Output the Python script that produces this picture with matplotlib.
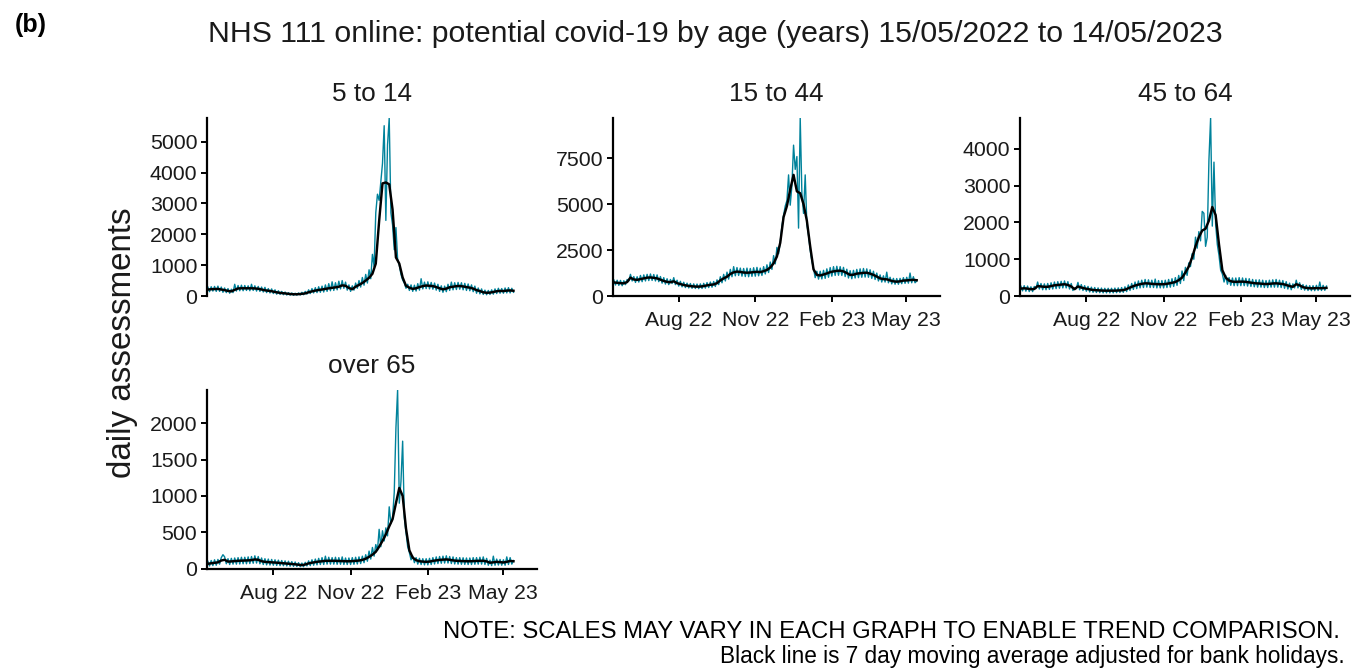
import numpy as np
import matplotlib
matplotlib.use("Agg")
import matplotlib.pyplot as plt
import matplotlib.dates as mdates

plt.rcParams['font.family'] = ['Liberation Sans', 'DejaVu Sans']

# ---------------- data ----------------
start_date = np.datetime64('2022-05-15')
teal_step = 2     # daily counts read every 2 days
black_step = 4    # 7-day moving average read every 4 days

panel_titles = ["5 to 14", "15 to 44", "45 to 64", "over 65"]

daily_5_14 = [290, 140, 300, 160, 310, 150, 320, 150, 290, 120,
              260, 110, 240, 90, 220, 110, 380, 160, 340, 170,
              350, 170, 340, 180, 330, 170, 380, 180, 330, 160,
              310, 150, 290, 130, 280, 110, 240, 100, 230, 80,
              200, 60, 170, 50, 150, 40, 130, 30, 110, 25,
              100, 20, 90, 25, 100, 30, 120, 40, 150, 60,
              200, 80, 240, 100, 270, 110, 300, 120, 320, 130,
              360, 150, 400, 170, 460, 180, 430, 200, 480, 230,
              500, 250, 450, 190, 360, 150, 330, 190, 420, 250,
              500, 290, 600, 350, 700, 420, 850, 560, 1350, 950,
              2700, 3300, 3100, 3700, 4300, 5520, 2450, 4900, 5770, 2700,
              2300, 1500, 2220, 1200, 1000, 700, 520, 420, 250, 380,
              180, 360, 150, 350, 160, 400, 190, 560, 230, 450,
              240, 460, 230, 440, 220, 420, 190, 380, 150, 330,
              120, 320, 140, 380, 180, 450, 200, 430, 210, 440,
              220, 430, 200, 410, 180, 390, 170, 360, 140, 320,
              90, 260, 70, 230, 50, 190, 40, 180, 50, 200,
              60, 230, 80, 250, 90, 240, 90, 260, 100, 270,
              100, 250, 120]
avg_5_14 = [210, 220, 225, 230, 210, 190, 165, 150, 200, 245, 250, 250, 250, 250, 245, 235, 210, 185, 170, 155,
            130, 110, 95, 85, 70, 60, 55, 60, 70, 85, 120, 150, 175, 195, 210, 230, 250, 265, 280, 300,
            345, 330, 260, 220, 300, 360, 420, 500, 590, 720, 1050, 2430, 3650, 3680, 3620, 2800, 1250, 1050, 600, 330,
            270, 230, 250, 290, 320, 340, 330, 320, 290, 250, 215, 240, 285, 300, 320, 325, 310, 290, 270, 240,
            190, 160, 120, 105, 110, 130, 155, 165, 160, 175, 180, 170]

daily_15_44 = [880, 600, 860, 580, 850, 560, 830, 620, 900, 820,
               1180, 820, 1060, 740, 1050, 760, 1120, 780, 1150, 820,
               1180, 840, 1200, 850, 1170, 820, 1150, 780, 1060, 700,
               1000, 650, 940, 620, 900, 680, 1000, 620, 860, 540,
               800, 500, 750, 460, 700, 440, 680, 420, 660, 410,
               650, 400, 660, 410, 690, 430, 730, 460, 760, 480,
               790, 520, 880, 620, 1050, 720, 1180, 820, 1300, 920,
               1450, 1050, 1600, 1100, 1550, 1120, 1520, 1080, 1500, 1060,
               1520, 1050, 1500, 1070, 1540, 1080, 1560, 1100, 1520, 1120,
               1600, 1200, 1700, 1280, 1850, 1450, 2200, 1750, 2650, 2300,
               2950, 3800, 4400, 4900, 5200, 6600, 4950, 6000, 8220, 6900,
               7600, 3700, 9700, 5600, 4500, 6600, 3900, 3300, 2500, 1900,
               1500, 1000, 1350, 920, 1350, 930, 1400, 960, 1480, 1020,
               1550, 1080, 1600, 1120, 1620, 1130, 1600, 1120, 1560, 1060,
               1460, 980, 1380, 940, 1400, 980, 1450, 1000, 1480, 1020,
               1500, 1030, 1480, 1020, 1430, 960, 1350, 900, 1250, 820,
               1150, 760, 1100, 760, 1300, 720, 1020, 660, 960, 640,
               950, 640, 960, 670, 1000, 690, 1020, 700, 1250, 720,
               1050, 720, 820]
avg_15_44 = [740, 720, 700, 690, 760, 1000, 900, 880, 920, 960, 1000, 1010, 990, 960, 890, 820, 770, 750, 800, 700,
             650, 600, 565, 540, 520, 510, 515, 540, 580, 610, 630, 700, 850, 960, 1050, 1200, 1290, 1330, 1310, 1280,
             1270, 1280, 1300, 1320, 1300, 1350, 1420, 1550, 1780, 2150, 2900, 4300, 4900, 5800, 6600, 5700, 5600, 5000, 4100, 2700,
             1450, 1150, 1120, 1170, 1230, 1300, 1340, 1370, 1380, 1340, 1250, 1150, 1160, 1220, 1240, 1260, 1270, 1220, 1150, 1060,
             960, 920, 910, 850, 800, 780, 800, 840, 850, 870, 880, 860]

daily_45_64 = [270, 140, 280, 130, 270, 120, 250, 120, 260, 200,
               380, 190, 340, 170, 330, 170, 340, 180, 360, 190,
               380, 200, 390, 210, 400, 220, 410, 220, 390, 190,
               340, 150, 220, 200, 370, 170, 310, 150, 280, 130,
               260, 110, 240, 100, 230, 95, 220, 90, 215, 85,
               210, 85, 210, 85, 210, 85, 215, 90, 220, 95,
               230, 100, 250, 120, 300, 150, 340, 180, 380, 200,
               410, 220, 430, 230, 450, 240, 440, 230, 430, 230,
               460, 220, 420, 220, 420, 220, 430, 230, 450, 240,
               470, 260, 500, 290, 560, 340, 680, 420, 780, 560,
               900, 800, 1150, 1000, 1600, 1300, 1750, 1500, 2300, 2250,
               1350, 1600, 3700, 4840, 1900, 3640, 1950, 1400, 1100, 700,
               600, 380, 560, 320, 500, 290, 490, 280, 490, 280,
               500, 280, 490, 280, 480, 270, 470, 260, 450, 250,
               440, 240, 440, 240, 430, 230, 420, 230, 430, 240,
               440, 240, 450, 240, 430, 230, 420, 210, 390, 190,
               350, 170, 330, 220, 430, 220, 360, 180, 310, 160,
               290, 150, 280, 145, 280, 145, 290, 150, 380, 150,
               290, 155, 270]
avg_45_64 = [200, 210, 200, 185, 190, 270, 260, 250, 250, 270, 290, 300, 310, 320, 300, 260, 185, 260, 230, 205,
             190, 170, 160, 155, 148, 145, 145, 145, 145, 150, 155, 170, 210, 250, 285, 310, 330, 345, 340, 330,
             325, 320, 320, 325, 340, 360, 380, 430, 500, 640, 800, 1050, 1350, 1600, 1780, 1830, 2050, 2420, 2200, 1400,
             700, 500, 420, 390, 385, 390, 390, 385, 370, 355, 345, 340, 330, 325, 330, 340, 345, 335, 325, 300,
             270, 250, 320, 290, 240, 220, 210, 210, 215, 210, 215, 220]

daily_65 = [100, 35, 110, 40, 120, 45, 125, 60, 150, 190,
            160, 65, 135, 55, 140, 60, 145, 60, 150, 62,
            155, 65, 155, 65, 160, 68, 165, 72, 175, 75,
            165, 65, 145, 55, 135, 50, 130, 48, 125, 45,
            120, 42, 115, 40, 110, 38, 105, 35, 100, 32,
            95, 30, 90, 28, 80, 25, 75, 25, 85, 35,
            105, 40, 120, 45, 130, 50, 140, 55, 150, 55,
            170, 60, 155, 60, 150, 60, 155, 58, 150, 58,
            160, 55, 145, 55, 145, 55, 150, 58, 155, 62,
            160, 68, 170, 80, 190, 100, 240, 130, 290, 170,
            330, 250, 540, 300, 520, 380, 560, 450, 850, 620,
            700, 1050, 1940, 2460, 900, 1200, 1755, 700, 500, 300,
            220, 120, 170, 80, 150, 60, 140, 55, 135, 50,
            135, 50, 140, 55, 150, 62, 160, 68, 165, 72,
            170, 75, 175, 75, 165, 68, 160, 62, 150, 60,
            150, 58, 148, 56, 145, 55, 145, 55, 150, 58,
            150, 60, 155, 60, 160, 55, 140, 45, 115, 40,
            170, 45, 130, 48, 125, 45, 120, 45, 160, 55,
            150, 60, 110]
avg_65 = [65, 72, 78, 85, 110, 120, 95, 98, 102, 106, 108, 110, 112, 115, 125, 120, 100, 92, 88, 85,
          82, 78, 74, 70, 66, 62, 58, 52, 46, 55, 70, 80, 88, 95, 100, 105, 106, 106, 105, 104,
          102, 100, 100, 102, 105, 110, 118, 135, 160, 190, 230, 300, 380, 470, 580, 680, 900, 1110, 1000, 550,
          250, 150, 115, 100, 95, 92, 95, 105, 112, 118, 122, 125, 120, 112, 106, 104, 102, 100, 100, 102,
          104, 106, 106, 98, 80, 85, 92, 88, 83, 92, 104, 100]

daily_series = [daily_5_14, daily_15_44, daily_45_64, daily_65]
avg_series = [avg_5_14, avg_15_44, avg_45_64, avg_65]
y_ticks = [[0, 1000, 2000, 3000, 4000, 5000],
           [0, 2500, 5000, 7500],
           [0, 1000, 2000, 3000, 4000],
           [0, 500, 1000, 1500, 2000]]
x_tick_dates = ['2022-08-01', '2022-11-01', '2023-02-01', '2023-05-01']
x_lim_dates = ['2022-05-14', '2023-06-11']

# ---------------- figure ----------------
W, H = 1362, 671
fig = plt.figure(figsize=(W / 100, H / 100), dpi=100)
fig.patch.set_facecolor('white')

def rect(x0, x1, ytop, ybot):
    return [x0 / W, 1 - ybot / H, (x1 - x0) / W, (ybot - ytop) / H]

panel_rects = [rect(207, 537, 118, 296), rect(613, 940, 118, 296),
               rect(1020, 1350, 118, 296), rect(207, 537, 390, 568.5)]
show_x = [False, True, True, True]

teal = '#00829B'
for k in range(4):
    ax = fig.add_axes(panel_rects[k])
    d = np.array(daily_series[k], dtype=float)
    a = np.array(avg_series[k], dtype=float)
    td = start_date + np.arange(len(d)) * teal_step
    bd = start_date + np.arange(len(a)) * black_step
    ax.plot(td.astype('datetime64[D]').astype(object), d, color=teal, lw=1.0, zorder=2)
    ax.plot(bd.astype('datetime64[D]').astype(object), a, color='black', lw=1.75, zorder=3,
            solid_joinstyle='round')
    ax.set_ylim(0, d.max())
    ax.set_xlim(np.datetime64(x_lim_dates[0]).astype(object), np.datetime64(x_lim_dates[1]).astype(object))
    ax.set_yticks(y_ticks[k])
    ax.set_xticks([np.datetime64(s).astype(object) for s in x_tick_dates])
    ax.xaxis.set_major_formatter(mdates.DateFormatter('%b %y'))
    for s in ['top', 'right']:
        ax.spines[s].set_visible(False)
    ax.spines['left'].set_linewidth(1.6)
    ax.spines['bottom'].set_linewidth(1.6)
    ax.tick_params(axis='both', length=4, width=1.4, labelsize=15.3, labelcolor='#1a1a1a', pad=3)
    ax.tick_params(axis='x', pad=7)
    if not show_x[k]:
        ax.spines['bottom'].set_visible(False)
        ax.tick_params(axis='x', bottom=False, labelbottom=False)
    ax.set_facecolor('none')
    ax.set_title(panel_titles[k], fontsize=18.8, pad=12, color='#1a1a1a')

fig.text(715.5 / W, 1 - 34 / H, 'NHS 111 online: potential covid-19 by age (years) 15/05/2022 to 14/05/2023',
         ha='center', va='center', fontsize=21.8, color='#1a1a1a')
fig.text(15 / W, 1 - 25 / H, '(b)', ha='left', va='center', fontsize=18, fontweight='bold')
fig.text(122 / W, 1 - 343 / H, 'daily assessments', ha='center', va='center', rotation=90,
         fontsize=23.9, color='#1a1a1a')
note_font = ['Liberation Sans Narrow', 'Liberation Sans']
fig.text(1340 / W, 1 - 632 / H, 'NOTE: SCALES MAY VARY IN EACH GRAPH TO ENABLE TREND COMPARISON.',
         ha='right', va='center', fontsize=17.2, family=note_font)
fig.text(1345 / W, 1 - 657 / H, 'Black line is 7 day moving average adjusted for bank holidays.',
         ha='right', va='center', fontsize=16.3, family=note_font)

fig.savefig('out.png', dpi=100, facecolor='white')
